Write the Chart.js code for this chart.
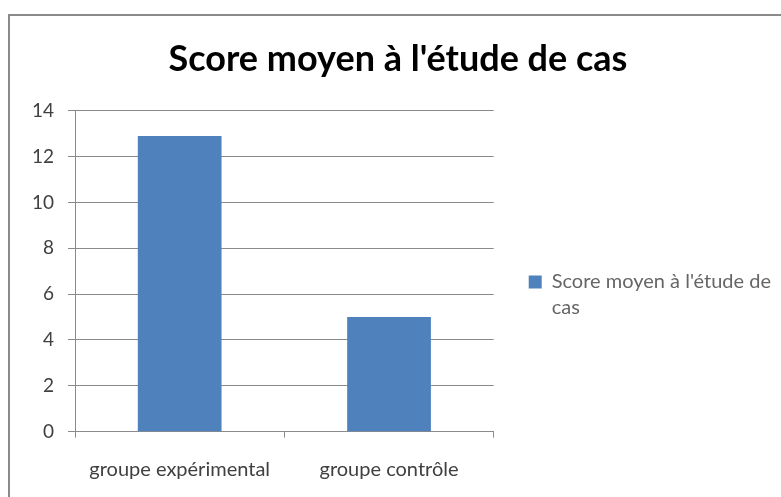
<!DOCTYPE html>
<html lang="fr">
<head>
    <meta charset="UTF-8">
    <title>Score moyen à l'étude de cas</title>
    <script src="https://cdn.jsdelivr.net/npm/chart.js"></script>
    <style>
        body {
            margin: 0;
            background: #ffffff;
            font-family: Lato, sans-serif;
        }
        #wrap {
            position: relative;
            width: 781px;
            height: 497px;
            overflow: hidden;
        }
        #frame {
            position: absolute;
            left: 8px;
            top: 14px;
            width: 900px;
            height: 600px;
            border-left: 2px solid #8a8a8a;
            border-top: 2px solid #8a8a8a;
            pointer-events: none;
        }
        canvas {
            position: absolute;
            left: 0;
            top: 0;
        }
    </style>
</head>
<body>
    <div id="wrap">
        <canvas id="myChart" width="781" height="497"></canvas>
        <div id="frame"></div>
    </div>

    <script>
        const chartTitle = "Score moyen à l'étude de cas";
        const categories = ['groupe expérimental', 'groupe contrôle'];
        const seriesName = "Score moyen à l'étude de cas";
        const seriesValues = [12.9, 5.0];
        const yTicks = [0, 2, 4, 6, 8, 10, 12, 14];

        const barColor = '#4f81bd';
        const gridColor = '#8a8a8a';
        const textColor = '#404040';

        // wrap legend text like the original (one word drops to the next line)
        function wrapText(ctx, text, maxWidth) {
            const words = text.split(' ');
            const lines = [];
            let line = '';
            words.forEach(w => {
                const test = line ? line + ' ' + w : w;
                if (ctx.measureText(test).width > maxWidth && line) {
                    lines.push(line);
                    line = w;
                } else {
                    line = test;
                }
            });
            if (line) lines.push(line);
            return lines;
        }

        const ctx = document.getElementById('myChart').getContext('2d');
        const myChart = new Chart(ctx, {
            type: 'bar',
            data: {
                labels: categories,
                datasets: [{
                    label: seriesName,
                    data: seriesValues,
                    backgroundColor: barColor,
                    borderWidth: 0,
                    categoryPercentage: 1.0,
                    barPercentage: 0.4
                }]
            },
            options: {
                responsive: false,
                animation: false,
                layout: {
                    padding: { left: 15, top: 0, right: 0, bottom: 0 }
                },
                plugins: {
                    title: {
                        display: true,
                        text: chartTitle,
                        color: '#000000',
                        font: { family: 'Lato', size: 36, weight: 'bold', lineHeight: 1.2 },
                        padding: { top: 37.6, bottom: 29.9 }
                    },
                    legend: {
                        display: true,
                        position: 'right',
                        fullSize: false,
                        maxWidth: 288,
                        title: {
                            display: true,
                            text: '',
                            font: { size: 12, lineHeight: 1.2 },
                            padding: { top: 39, bottom: 0 }
                        },
                        labels: {
                            color: textColor,
                            font: { family: 'Lato', size: 20, lineHeight: 1.3 },
                            boxWidth: 13,
                            boxHeight: 13,
                            padding: 35,
                            generateLabels: (chart) => {
                                const c = chart.ctx;
                                c.save();
                                c.font = '20px Lato';
                                const items = chart.data.datasets.map((ds, i) => ({
                                    text: wrapText(c, ds.label, 235),
                                    fillStyle: ds.backgroundColor,
                                    strokeStyle: ds.backgroundColor,
                                    lineWidth: 0,
                                    hidden: false,
                                    datasetIndex: i
                                }));
                                c.restore();
                                return items;
                            }
                        }
                    },
                    tooltip: { enabled: false }
                },
                scales: {
                    x: {
                        grid: {
                            display: true,
                            drawOnChartArea: false,
                            drawTicks: true,
                            tickLength: 6,
                            color: gridColor,
                            offset: true
                        },
                        border: { color: gridColor, width: 1 },
                        ticks: {
                            color: textColor,
                            font: { family: 'Lato', size: 20 },
                            padding: 20,
                            maxRotation: 0
                        },
                        afterFit: (scale) => { scale.height = 65.3; }
                    },
                    y: {
                        min: yTicks[0],
                        max: yTicks[yTicks.length - 1],
                        afterBuildTicks: (scale) => {
                            scale.ticks = yTicks.map(v => ({ value: v }));
                        },
                        grid: {
                            color: gridColor,
                            drawTicks: true,
                            tickLength: 7
                        },
                        border: { color: gridColor, width: 1 },
                        ticks: {
                            color: textColor,
                            font: { family: 'Lato', size: 19 },
                            padding: 14
                        },
                        afterFit: (scale) => { scale.width = 60; }
                    }
                }
            }
        });
    </script>
</body>
</html>
